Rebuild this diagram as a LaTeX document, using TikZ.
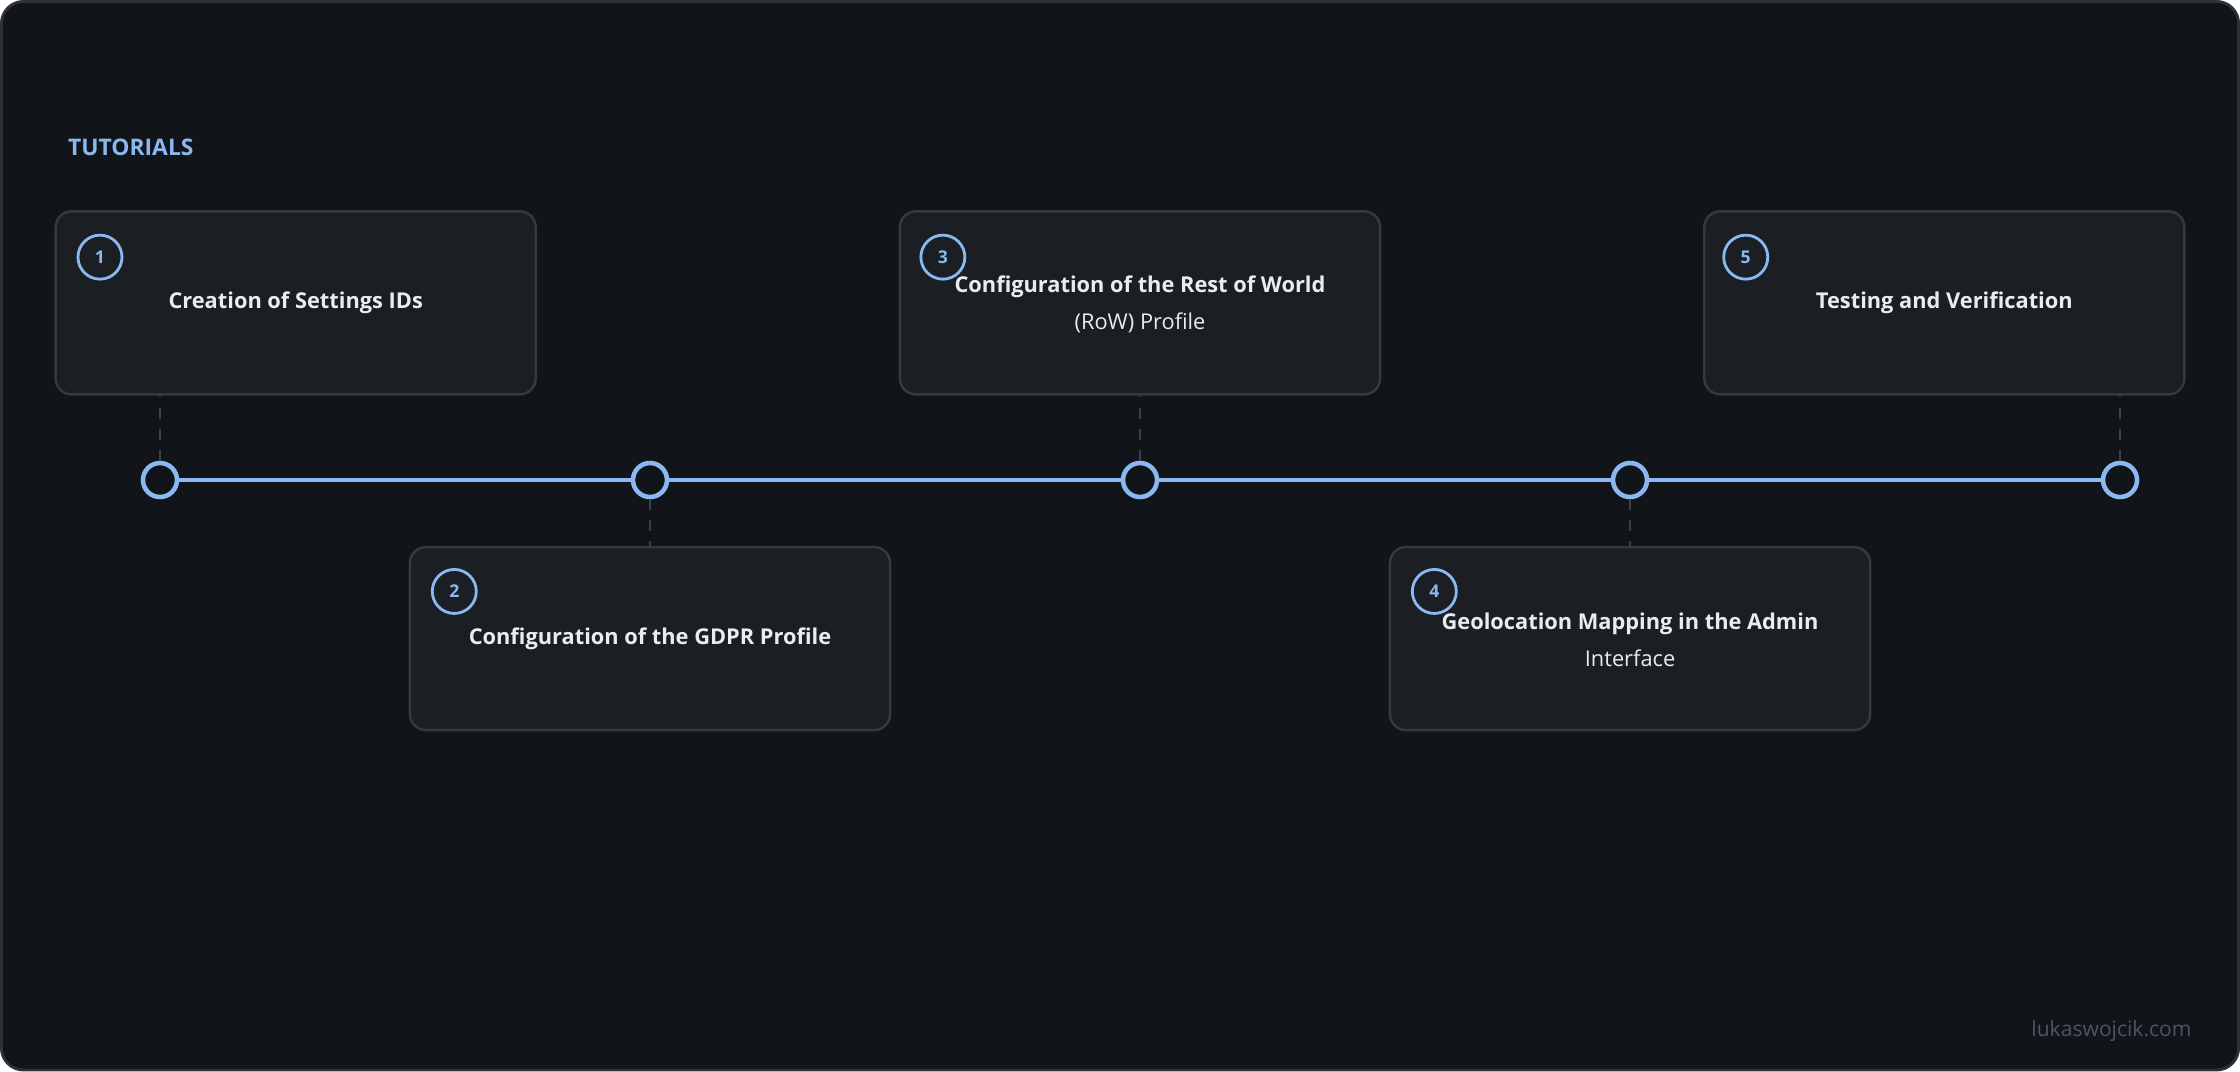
\documentclass[tikz,border=0pt]{standalone}
\usepackage{fontspec}
\setmainfont{Open Sans}
\usetikzlibrary{positioning}
\definecolor{bgc}{HTML}{111418}
\definecolor{framec}{HTML}{2D3239}
\definecolor{cardc}{HTML}{1B1F23}
\definecolor{cardline}{HTML}{343A44}
\definecolor{bluec}{HTML}{8AB8F0}
\definecolor{textc}{HTML}{E6EDF3}
\definecolor{dashc}{HTML}{3A404A}
\definecolor{markc}{HTML}{4A5566}
\begin{document}
\begin{tikzpicture}[x=0.0142857cm,y=-0.0142857cm,
  card/.style={rectangle,rounded corners=1.6mm,draw=cardline,fill=cardc,line width=0.7pt,minimum width=4.8cm,minimum height=1.83cm},
  stop/.style={circle,draw=bluec,fill=bgc,line width=1.3pt,minimum size=0.34cm,inner sep=0pt},
  badge/.style={circle,draw=bluec,line width=0.8pt,minimum size=0.44cm,inner sep=0pt,text=bluec,font=\fontsize{5}{6}\selectfont\bfseries},
  title/.style={text=textc,align=center,font=\fontsize{6.2}{10.5}\selectfont},
  linkst/.style={dashc,line width=0.7pt,dash pattern=on 3pt off 3pt}]
	%%frame
	\draw [fill=bgc,draw=framec,line width=0.8pt,rounded corners=2.2mm] (1,1) rectangle (1567,749);
	\node [anchor=west,text=bluec,font=\fontsize{6.5}{8}\selectfont\bfseries] (head) at (39,103) {TUTORIALS};
	%%timeline
	\draw [bluec,line width=1.3pt] (112,336) -- (1484,336);
	\foreach \i/\x in {1/112,2/455,3/798,4/1141,5/1484}
		\node [stop] (s\i) at (\x,336) {};
	%%cards above
	\node [card] (c1) at (207,212) {};
	\node [card] (c3) at (798,212) {};
	\node [card] (c5) at (1361,212) {};
	%%cards below
	\node [card] (c2) at (455,447) {};
	\node [card] (c4) at (1141,447) {};
	%%connectors
	\draw [linkst] (s1.north) -- (s1.north |- c1.south);
	\draw [linkst] (s3.north) -- (c3.south);
	\draw [linkst] (s5.north) -- (s5.north |- c5.south);
	\draw [linkst] (s2.south) -- (c2.north);
	\draw [linkst] (s4.south) -- (c4.north);
	%%badges
	\node [badge] (b1) at (70,180) {1};
	\node [badge] (b2) at (318,414) {2};
	\node [badge] (b3) at (660,180) {3};
	\node [badge] (b4) at (1004,414) {4};
	\node [badge] (b5) at (1222,180) {5};
	%%titles
	\node [title] (t1) at (207,212) {\bfseries Creation of Settings IDs};
	\node [title] (t2) at (455,447) {\bfseries Configuration of the GDPR Profile};
	\node [title] (t3) at (798,213) {\bfseries Configuration of the Rest of World\\(RoW) Profile};
	\node [title] (t4) at (1141,448) {\bfseries Geolocation Mapping in the Admin\\Interface};
	\node [title] (t5) at (1361,212) {\bfseries Testing and Verification};
	\node [text=markc,font=\fontsize{6}{7}\selectfont] (mark) at (1478,722) {lukaswojcik.com};
\end{tikzpicture}
\end{document}
